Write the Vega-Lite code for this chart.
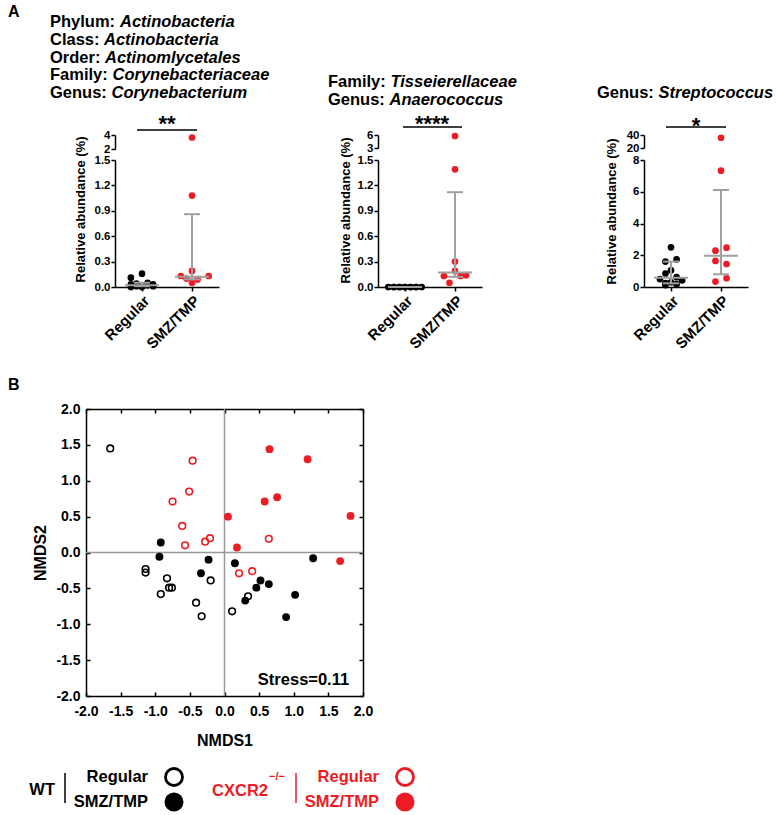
{
"$schema": "https://vega.github.io/schema/vega-lite/v6.json",
"padding": {"left": 8, "top": 0, "right": 0, "bottom": 0},
"columns": 4,
"bounds": "flush",
"align": "none",
"spacing": {"row": 70, "column": 0},
"config": {
  "view": {"stroke": null},
  "font": "Liberation Sans",
  "locale": {"number": {"decimal": ".", "thousands": ",", "grouping": [3], "currency": ["$", ""], "minus": "-"}}
},
"datasets": {
  "p1": [
    {"group": "Regular", "value": 0.157, "slot": 0},
    {"group": "Regular", "value": 0.11, "slot": -2},
    {"group": "Regular", "value": 0.05, "slot": 1},
    {"group": "Regular", "value": 0.04, "slot": -1},
    {"group": "Regular", "value": 0.03, "slot": 2},
    {"group": "Regular", "value": 0.03, "slot": -2},
    {"group": "Regular", "value": 0.02, "slot": 0},
    {"group": "Regular", "value": 0.02, "slot": 1},
    {"group": "Regular", "value": 0.01, "slot": -1},
    {"group": "Regular", "value": 0.01, "slot": 2},
    {"group": "Regular", "value": 0.0, "slot": 0},
    {"group": "Regular", "value": 0.0, "slot": -2},
    {"group": "SMZ/TMP", "value": 3.64, "slot": 0},
    {"group": "SMZ/TMP", "value": 1.08, "slot": 0},
    {"group": "SMZ/TMP", "value": 0.19, "slot": 0},
    {"group": "SMZ/TMP", "value": 0.13, "slot": -2},
    {"group": "SMZ/TMP", "value": 0.10, "slot": -1},
    {"group": "SMZ/TMP", "value": 0.09, "slot": 1},
    {"group": "SMZ/TMP", "value": 0.13, "slot": 3},
    {"group": "SMZ/TMP", "value": 0.05, "slot": 0}
  ],
  "p1s": [
    {"group": "Regular", "med": 0.02, "lo": 0.01, "hi": 0.05},
    {"group": "SMZ/TMP", "med": 0.12, "lo": 0.09, "hi": 0.86}
  ],
  "p1t": [
    {"line": 1, "label": "Phylum:", "name": "Actinobacteria"},
    {"line": 2, "label": "Class:", "name": "Actinobacteria"},
    {"line": 3, "label": "Order:", "name": "Actinomlycetales"},
    {"line": 4, "label": "Family:", "name": "Corynebacteriaceae"},
    {"line": 5, "label": "Genus:", "name": "Corynebacterium"}
  ],
  "p2": [
    {"group": "Regular", "value": 0, "slot": -3},
    {"group": "Regular", "value": 0, "slot": -2},
    {"group": "Regular", "value": 0, "slot": -1},
    {"group": "Regular", "value": 0, "slot": 0},
    {"group": "Regular", "value": 0, "slot": 1},
    {"group": "Regular", "value": 0, "slot": 2},
    {"group": "Regular", "value": 0, "slot": 3},
    {"group": "Regular", "value": 0, "slot": -2},
    {"group": "Regular", "value": 0, "slot": -1},
    {"group": "Regular", "value": 0, "slot": 0},
    {"group": "Regular", "value": 0, "slot": 1},
    {"group": "Regular", "value": 0, "slot": 2},
    {"group": "SMZ/TMP", "value": 5.77, "slot": 0},
    {"group": "SMZ/TMP", "value": 1.39, "slot": 0},
    {"group": "SMZ/TMP", "value": 0.30, "slot": 0},
    {"group": "SMZ/TMP", "value": 0.19, "slot": 0},
    {"group": "SMZ/TMP", "value": 0.13, "slot": -2},
    {"group": "SMZ/TMP", "value": 0.13, "slot": 1},
    {"group": "SMZ/TMP", "value": 0.14, "slot": 2},
    {"group": "SMZ/TMP", "value": 0.05, "slot": -1}
  ],
  "p2s": [
    {"group": "Regular", "med": 0, "lo": 0, "hi": 0},
    {"group": "SMZ/TMP", "med": 0.17, "lo": 0.12, "hi": 1.12}
  ],
  "p2t": [
    {"line": 1, "label": "Family:", "name": "Tisseierellaceae"},
    {"line": 2, "label": "Genus:", "name": "Anaerococcus"}
  ],
  "p3": [
    {"group": "Regular", "value": 2.50, "slot": 0},
    {"group": "Regular", "value": 1.74, "slot": 1},
    {"group": "Regular", "value": 1.60, "slot": -1},
    {"group": "Regular", "value": 1.05, "slot": 0},
    {"group": "Regular", "value": 0.85, "slot": -1},
    {"group": "Regular", "value": 0.62, "slot": 1},
    {"group": "Regular", "value": 0.50, "slot": -2},
    {"group": "Regular", "value": 0.42, "slot": 2},
    {"group": "Regular", "value": 0.30, "slot": 0},
    {"group": "Regular", "value": 0.25, "slot": -1},
    {"group": "Regular", "value": 0.18, "slot": 1},
    {"group": "Regular", "value": 0.12, "slot": -1},
    {"group": "SMZ/TMP", "value": 35.8, "slot": 0},
    {"group": "SMZ/TMP", "value": 7.33, "slot": 0},
    {"group": "SMZ/TMP", "value": 2.48, "slot": 1},
    {"group": "SMZ/TMP", "value": 2.29, "slot": -1},
    {"group": "SMZ/TMP", "value": 1.64, "slot": -1},
    {"group": "SMZ/TMP", "value": 1.45, "slot": 1},
    {"group": "SMZ/TMP", "value": 0.55, "slot": 1},
    {"group": "SMZ/TMP", "value": 0.34, "slot": -1}
  ],
  "p3s": [
    {"group": "Regular", "med": 0.59, "lo": 0.23, "hi": 1.60},
    {"group": "SMZ/TMP", "med": 1.97, "lo": 0.80, "hi": 6.11}
  ],
  "p3t": [
    {"line": 1, "label": "Genus:", "name": "Streptococcus"}
  ],
  "nmds": [
    {"geno": "WT", "diet": "Regular", "nmds1": -1.65, "nmds2": 1.45},
    {"geno": "WT", "diet": "Regular", "nmds1": -1.14, "nmds2": -0.23},
    {"geno": "WT", "diet": "Regular", "nmds1": -1.14, "nmds2": -0.28},
    {"geno": "WT", "diet": "Regular", "nmds1": -0.83, "nmds2": -0.36},
    {"geno": "WT", "diet": "Regular", "nmds1": -0.80, "nmds2": -0.49},
    {"geno": "WT", "diet": "Regular", "nmds1": -0.76, "nmds2": -0.49},
    {"geno": "WT", "diet": "Regular", "nmds1": -0.92, "nmds2": -0.58},
    {"geno": "WT", "diet": "Regular", "nmds1": -0.20, "nmds2": -0.39},
    {"geno": "WT", "diet": "Regular", "nmds1": -0.41, "nmds2": -0.70},
    {"geno": "WT", "diet": "Regular", "nmds1": -0.33, "nmds2": -0.89},
    {"geno": "WT", "diet": "Regular", "nmds1": 0.11, "nmds2": -0.82},
    {"geno": "WT", "diet": "Regular", "nmds1": 0.34, "nmds2": -0.61},
    {"geno": "WT", "diet": "SMZ/TMP", "nmds1": -0.92, "nmds2": 0.14},
    {"geno": "WT", "diet": "SMZ/TMP", "nmds1": -0.94, "nmds2": -0.06},
    {"geno": "WT", "diet": "SMZ/TMP", "nmds1": -0.23, "nmds2": -0.10},
    {"geno": "WT", "diet": "SMZ/TMP", "nmds1": -0.34, "nmds2": -0.29},
    {"geno": "WT", "diet": "SMZ/TMP", "nmds1": 0.15, "nmds2": -0.15},
    {"geno": "WT", "diet": "SMZ/TMP", "nmds1": 0.30, "nmds2": -0.67},
    {"geno": "WT", "diet": "SMZ/TMP", "nmds1": 0.46, "nmds2": -0.49},
    {"geno": "WT", "diet": "SMZ/TMP", "nmds1": 0.52, "nmds2": -0.39},
    {"geno": "WT", "diet": "SMZ/TMP", "nmds1": 0.64, "nmds2": -0.44},
    {"geno": "WT", "diet": "SMZ/TMP", "nmds1": 1.02, "nmds2": -0.59},
    {"geno": "WT", "diet": "SMZ/TMP", "nmds1": 0.89, "nmds2": -0.90},
    {"geno": "WT", "diet": "SMZ/TMP", "nmds1": 1.28, "nmds2": -0.08},
    {"geno": "CXCR2", "diet": "Regular", "nmds1": -0.46, "nmds2": 1.28},
    {"geno": "CXCR2", "diet": "Regular", "nmds1": -0.51, "nmds2": 0.85},
    {"geno": "CXCR2", "diet": "Regular", "nmds1": -0.75, "nmds2": 0.71},
    {"geno": "CXCR2", "diet": "Regular", "nmds1": -0.61, "nmds2": 0.37},
    {"geno": "CXCR2", "diet": "Regular", "nmds1": -0.57, "nmds2": 0.10},
    {"geno": "CXCR2", "diet": "Regular", "nmds1": -0.28, "nmds2": 0.15},
    {"geno": "CXCR2", "diet": "Regular", "nmds1": -0.21, "nmds2": 0.20},
    {"geno": "CXCR2", "diet": "Regular", "nmds1": 0.64, "nmds2": 0.19},
    {"geno": "CXCR2", "diet": "Regular", "nmds1": 0.21, "nmds2": -0.29},
    {"geno": "CXCR2", "diet": "Regular", "nmds1": 0.40, "nmds2": -0.26},
    {"geno": "CXCR2", "diet": "SMZ/TMP", "nmds1": 0.65, "nmds2": 1.44},
    {"geno": "CXCR2", "diet": "SMZ/TMP", "nmds1": 1.20, "nmds2": 1.30},
    {"geno": "CXCR2", "diet": "SMZ/TMP", "nmds1": 0.58, "nmds2": 0.71},
    {"geno": "CXCR2", "diet": "SMZ/TMP", "nmds1": 0.76, "nmds2": 0.77},
    {"geno": "CXCR2", "diet": "SMZ/TMP", "nmds1": 0.05, "nmds2": 0.50},
    {"geno": "CXCR2", "diet": "SMZ/TMP", "nmds1": 1.82, "nmds2": 0.51},
    {"geno": "CXCR2", "diet": "SMZ/TMP", "nmds1": 0.18, "nmds2": 0.07},
    {"geno": "CXCR2", "diet": "SMZ/TMP", "nmds1": 1.67, "nmds2": -0.12}
  ],
  "leg": [
    {"geno": "WT", "diet": "Regular"},
    {"geno": "WT", "diet": "SMZ/TMP"},
    {"geno": "CXCR2", "diet": "Regular"},
    {"geno": "CXCR2", "diet": "SMZ/TMP"}
  ]
},
"concat": [
  {
    "width": 292, "height": 287,
    "resolve": {"scale": {"y": "independent"}, "axis": {"y": "independent"}},
    "layer": [
      {"data": {"name": "p1"}, "transform": [{"filter": "datum.value <= 1.5"}],
       "mark": {"type": "circle", "size": 45, "opacity": 1},
       "encoding": {
         "x": {"field": "group", "type": "nominal", "scale": {"type": "band", "domain": ["Regular", "SMZ/TMP"], "range": [29, 133], "paddingInner": 0, "paddingOuter": 0.04}, "axis": {"title": null, "labelAngle": -45, "labelFontSize": 15, "labelFontWeight": "bold", "labelColor": "#000000", "labelPadding": 2, "tickSize": 4, "tickColor": "#000000", "tickWidth": 1.5, "domainColor": "#000000", "domainWidth": 1.5}},
         "xOffset": {"field": "slot", "type": "ordinal", "scale": {"type": "band", "domain": [-4, -3, -2, -1, 0, 1, 2, 3, 4], "paddingInner": 0, "paddingOuter": 0}},
         "y": {"field": "value", "type": "quantitative", "scale": {"domain": [0, 1.5], "range": [287, 160], "nice": false, "zero": false}, "axis": {"orient": "left", "offset": -29, "values": [0, 0.3, 0.6, 0.9, 1.2, 1.5], "format": ".1f", "title": "Relative abundance (%)", "titleFontSize": 13, "titleFontWeight": "bold", "titleColor": "#000000", "titleBaseline": "middle", "titleX": -35, "titleY": 209, "labelFontSize": 11.5, "labelFontWeight": "bold", "labelColor": "#000000", "labelPadding": 1, "tickSize": 4, "tickColor": "#000000", "tickWidth": 1.5, "domainColor": "#000000", "domainWidth": 1.5, "grid": false, "labelFlush": false, "labelOverlap": false}},
         "color": {"field": "group", "type": "nominal", "scale": {"domain": ["Regular", "SMZ/TMP"], "range": ["#000000", "#ed1c24"]}, "legend": null}
       }},
      {"data": {"name": "p1"}, "transform": [{"filter": "datum.value > 1.5"}],
       "mark": {"type": "circle", "size": 45, "opacity": 1},
       "encoding": {
         "x": {"field": "group", "type": "nominal", "scale": {"type": "band", "domain": ["Regular", "SMZ/TMP"], "range": [29, 133], "paddingInner": 0, "paddingOuter": 0.04}, "axis": {"title": null, "labelAngle": -45, "labelFontSize": 15, "labelFontWeight": "bold", "labelColor": "#000000", "labelPadding": 2, "tickSize": 4, "tickColor": "#000000", "tickWidth": 1.5, "domainColor": "#000000", "domainWidth": 1.5}},
         "xOffset": {"field": "slot", "type": "ordinal", "scale": {"type": "band", "domain": [-4, -3, -2, -1, 0, 1, 2, 3, 4], "paddingInner": 0, "paddingOuter": 0}},
         "y": {"field": "value", "type": "quantitative", "scale": {"domain": [2, 4], "range": [149, 135], "nice": false, "zero": false}, "axis": {"orient": "left", "offset": -29, "values": [2, 4], "format": "d", "title": null, "labelFontSize": 11.5, "labelFontWeight": "bold", "labelColor": "#000000", "labelPadding": 1, "tickSize": 4, "tickColor": "#000000", "tickWidth": 1.5, "domainColor": "#000000", "domainWidth": 1.5, "grid": false, "labelFlush": false, "labelOverlap": false}},
         "color": {"field": "group", "type": "nominal", "scale": {"domain": ["Regular", "SMZ/TMP"], "range": ["#000000", "#ed1c24"]}, "legend": null}
       }},
      {"data": {"name": "p1s"},
       "mark": {"type": "rule", "color": "#a0a0a0", "strokeWidth": 2},
       "encoding": {
         "x": {"field": "group", "type": "nominal", "scale": {"type": "band", "domain": ["Regular", "SMZ/TMP"], "range": [29, 133], "paddingInner": 0, "paddingOuter": 0.04}, "axis": {"title": null, "labelAngle": -45, "labelFontSize": 15, "labelFontWeight": "bold", "labelColor": "#000000", "labelPadding": 2, "tickSize": 4, "tickColor": "#000000", "tickWidth": 1.5, "domainColor": "#000000", "domainWidth": 1.5}},
         "y": {"field": "lo", "type": "quantitative", "scale": {"domain": [0, 1.5], "range": [287, 160], "nice": false, "zero": false}, "axis": null},
         "y2": {"field": "hi"}
       }},
      {"data": {"name": "p1s"}, "transform": [{"fold": ["lo", "hi"], "as": ["k", "v"]}],
       "mark": {"type": "tick", "color": "#a0a0a0", "size": 16, "thickness": 2, "opacity": 1},
       "encoding": {
         "x": {"field": "group", "type": "nominal", "scale": {"type": "band", "domain": ["Regular", "SMZ/TMP"], "range": [29, 133], "paddingInner": 0, "paddingOuter": 0.04}, "axis": {"title": null, "labelAngle": -45, "labelFontSize": 15, "labelFontWeight": "bold", "labelColor": "#000000", "labelPadding": 2, "tickSize": 4, "tickColor": "#000000", "tickWidth": 1.5, "domainColor": "#000000", "domainWidth": 1.5}},
         "y": {"field": "v", "type": "quantitative", "scale": {"domain": [0, 1.5], "range": [287, 160], "nice": false, "zero": false}, "axis": null}
       }},
      {"data": {"name": "p1s"},
       "mark": {"type": "tick", "color": "#a0a0a0", "size": 34, "thickness": 2, "opacity": 1},
       "encoding": {
         "x": {"field": "group", "type": "nominal", "scale": {"type": "band", "domain": ["Regular", "SMZ/TMP"], "range": [29, 133], "paddingInner": 0, "paddingOuter": 0.04}, "axis": {"title": null, "labelAngle": -45, "labelFontSize": 15, "labelFontWeight": "bold", "labelColor": "#000000", "labelPadding": 2, "tickSize": 4, "tickColor": "#000000", "tickWidth": 1.5, "domainColor": "#000000", "domainWidth": 1.5}},
         "y": {"field": "med", "type": "quantitative", "scale": {"domain": [0, 1.5], "range": [287, 160], "nice": false, "zero": false}, "axis": null}
       }},
      {"data": {"values": [{"s": "**"}]},
       "mark": {"type": "rule", "color": "#000000", "strokeWidth": 1.5, "xOffset": -5, "x2Offset": 5},
       "encoding": {
         "x": {"datum": "Regular", "type": "nominal"},
         "x2": {"datum": "SMZ/TMP"},
         "y": {"datum": 4.714, "type": "quantitative", "scale": {"domain": [2, 4], "range": [149, 135], "nice": false, "zero": false}, "axis": null}
       }},
      {"data": {"values": [{"s": "**"}]},
       "mark": {"type": "text", "fontSize": 22, "fontWeight": "bold", "align": "center", "baseline": "alphabetic", "dx": 25, "dy": 1, "color": "#000000"},
       "encoding": {
         "x": {"datum": "Regular", "type": "nominal"},
         "y": {"datum": 4.714, "type": "quantitative", "scale": {"domain": [2, 4], "range": [149, 135], "nice": false, "zero": false}, "axis": null},
         "text": {"field": "s"}
       }},
      {"data": {"values": [{"t": "A"}]},
       "mark": {"type": "text", "align": "left", "baseline": "middle", "fontSize": 16, "fontWeight": "bold", "dx": -134, "dy": -10, "color": "#000000"},
       "encoding": {
         "x": {"datum": "Regular", "type": "nominal"},
         "y": {"datum": 1, "type": "quantitative", "scale": {"domain": [1, 5], "range": [22, 93], "nice": false, "zero": false}, "axis": null},
         "text": {"field": "t"}
       }},
      {"data": {"name": "p1t"},
       "mark": {"type": "text", "align": "left", "baseline": "middle", "fontSize": 16.5, "fontWeight": "bold", "dx": -92, "color": "#000000"},
       "encoding": {
         "x": {"datum": "Regular", "type": "nominal"},
         "y": {"field": "line", "type": "quantitative", "scale": {"domain": [1, 5], "range": [22, 93], "nice": false, "zero": false}, "axis": null},
         "text": {"field": "label"}
       }},
      {"data": {"name": "p1t"}, "transform": [{"filter": "datum.line == 1"}],
       "mark": {"type": "text", "align": "left", "baseline": "middle", "fontSize": 16.5, "fontWeight": "bold", "fontStyle": "italic", "dx": -22, "color": "#000000"},
       "encoding": {
         "x": {"datum": "Regular", "type": "nominal"},
         "y": {"field": "line", "type": "quantitative", "scale": {"domain": [1, 5], "range": [22, 93], "nice": false, "zero": false}, "axis": null},
         "text": {"field": "name"}
       }},
      {"data": {"name": "p1t"}, "transform": [{"filter": "datum.line == 2"}],
       "mark": {"type": "text", "align": "left", "baseline": "middle", "fontSize": 16.5, "fontWeight": "bold", "fontStyle": "italic", "dx": -38, "color": "#000000"},
       "encoding": {
         "x": {"datum": "Regular", "type": "nominal"},
         "y": {"field": "line", "type": "quantitative", "scale": {"domain": [1, 5], "range": [22, 93], "nice": false, "zero": false}, "axis": null},
         "text": {"field": "name"}
       }},
      {"data": {"name": "p1t"}, "transform": [{"filter": "datum.line == 3"}],
       "mark": {"type": "text", "align": "left", "baseline": "middle", "fontSize": 16.5, "fontWeight": "bold", "fontStyle": "italic", "dx": -37, "color": "#000000"},
       "encoding": {
         "x": {"datum": "Regular", "type": "nominal"},
         "y": {"field": "line", "type": "quantitative", "scale": {"domain": [1, 5], "range": [22, 93], "nice": false, "zero": false}, "axis": null},
         "text": {"field": "name"}
       }},
      {"data": {"name": "p1t"}, "transform": [{"filter": "datum.line == 4"}],
       "mark": {"type": "text", "align": "left", "baseline": "middle", "fontSize": 16.5, "fontWeight": "bold", "fontStyle": "italic", "dx": -29.5, "color": "#000000"},
       "encoding": {
         "x": {"datum": "Regular", "type": "nominal"},
         "y": {"field": "line", "type": "quantitative", "scale": {"domain": [1, 5], "range": [22, 93], "nice": false, "zero": false}, "axis": null},
         "text": {"field": "name"}
       }},
      {"data": {"name": "p1t"}, "transform": [{"filter": "datum.line == 5"}],
       "mark": {"type": "text", "align": "left", "baseline": "middle", "fontSize": 16.5, "fontWeight": "bold", "fontStyle": "italic", "dx": -30.5, "color": "#000000"},
       "encoding": {
         "x": {"datum": "Regular", "type": "nominal"},
         "y": {"field": "line", "type": "quantitative", "scale": {"domain": [1, 5], "range": [22, 93], "nice": false, "zero": false}, "axis": null},
         "text": {"field": "name"}
       }}
    ]
  },
  {
    "width": 266, "height": 287,
    "resolve": {"scale": {"y": "independent"}, "axis": {"y": "independent"}},
    "layer": [
      {"data": {"name": "p2"}, "transform": [{"filter": "datum.value <= 1.5"}],
       "mark": {"type": "circle", "size": 45, "opacity": 1},
       "encoding": {
         "x": {"field": "group", "type": "nominal", "scale": {"type": "band", "domain": ["Regular", "SMZ/TMP"], "range": [0, 104], "paddingInner": 0, "paddingOuter": 0.04}, "axis": {"title": null, "labelAngle": -45, "labelFontSize": 15, "labelFontWeight": "bold", "labelColor": "#000000", "labelPadding": 2, "tickSize": 4, "tickColor": "#000000", "tickWidth": 1.5, "domainColor": "#000000", "domainWidth": 1.5}},
         "xOffset": {"field": "slot", "type": "ordinal", "scale": {"type": "band", "domain": [-4, -3, -2, -1, 0, 1, 2, 3, 4], "paddingInner": 0, "paddingOuter": 0}},
         "y": {"field": "value", "type": "quantitative", "scale": {"domain": [0, 1.5], "range": [287, 160], "nice": false, "zero": false}, "axis": {"orient": "left", "values": [0, 0.3, 0.6, 0.9, 1.2, 1.5], "format": ".1f", "title": "Relative abundance (%)", "titleFontSize": 13, "titleFontWeight": "bold", "titleColor": "#000000", "titleBaseline": "middle", "titleX": -33, "titleY": 210, "labelFontSize": 11.5, "labelFontWeight": "bold", "labelColor": "#000000", "labelPadding": 1, "tickSize": 4, "tickColor": "#000000", "tickWidth": 1.5, "domainColor": "#000000", "domainWidth": 1.5, "grid": false, "labelFlush": false, "labelOverlap": false}},
         "color": {"field": "group", "type": "nominal", "scale": {"domain": ["Regular", "SMZ/TMP"], "range": ["#000000", "#ed1c24"]}, "legend": null}
       }},
      {"data": {"name": "p2"}, "transform": [{"filter": "datum.value > 1.5"}],
       "mark": {"type": "circle", "size": 45, "opacity": 1},
       "encoding": {
         "x": {"field": "group", "type": "nominal", "scale": {"type": "band", "domain": ["Regular", "SMZ/TMP"], "range": [0, 104], "paddingInner": 0, "paddingOuter": 0.04}, "axis": {"title": null, "labelAngle": -45, "labelFontSize": 15, "labelFontWeight": "bold", "labelColor": "#000000", "labelPadding": 2, "tickSize": 4, "tickColor": "#000000", "tickWidth": 1.5, "domainColor": "#000000", "domainWidth": 1.5}},
         "xOffset": {"field": "slot", "type": "ordinal", "scale": {"type": "band", "domain": [-4, -3, -2, -1, 0, 1, 2, 3, 4], "paddingInner": 0, "paddingOuter": 0}},
         "y": {"field": "value", "type": "quantitative", "scale": {"domain": [3, 6], "range": [148, 135], "nice": false, "zero": false}, "axis": {"orient": "left", "values": [3, 6], "format": "d", "title": null, "labelFontSize": 11.5, "labelFontWeight": "bold", "labelColor": "#000000", "labelPadding": 1, "tickSize": 4, "tickColor": "#000000", "tickWidth": 1.5, "domainColor": "#000000", "domainWidth": 1.5, "grid": false, "labelFlush": false, "labelOverlap": false}},
         "color": {"field": "group", "type": "nominal", "scale": {"domain": ["Regular", "SMZ/TMP"], "range": ["#000000", "#ed1c24"]}, "legend": null}
       }},
      {"data": {"name": "p2s"},
       "mark": {"type": "rule", "color": "#a0a0a0", "strokeWidth": 2},
       "encoding": {
         "x": {"field": "group", "type": "nominal", "scale": {"type": "band", "domain": ["Regular", "SMZ/TMP"], "range": [0, 104], "paddingInner": 0, "paddingOuter": 0.04}, "axis": {"title": null, "labelAngle": -45, "labelFontSize": 15, "labelFontWeight": "bold", "labelColor": "#000000", "labelPadding": 2, "tickSize": 4, "tickColor": "#000000", "tickWidth": 1.5, "domainColor": "#000000", "domainWidth": 1.5}},
         "y": {"field": "lo", "type": "quantitative", "scale": {"domain": [0, 1.5], "range": [287, 160], "nice": false, "zero": false}, "axis": null},
         "y2": {"field": "hi"}
       }},
      {"data": {"name": "p2s"}, "transform": [{"fold": ["lo", "hi"], "as": ["k", "v"]}],
       "mark": {"type": "tick", "color": "#a0a0a0", "size": 16, "thickness": 2, "opacity": 1},
       "encoding": {
         "x": {"field": "group", "type": "nominal", "scale": {"type": "band", "domain": ["Regular", "SMZ/TMP"], "range": [0, 104], "paddingInner": 0, "paddingOuter": 0.04}, "axis": {"title": null, "labelAngle": -45, "labelFontSize": 15, "labelFontWeight": "bold", "labelColor": "#000000", "labelPadding": 2, "tickSize": 4, "tickColor": "#000000", "tickWidth": 1.5, "domainColor": "#000000", "domainWidth": 1.5}},
         "y": {"field": "v", "type": "quantitative", "scale": {"domain": [0, 1.5], "range": [287, 160], "nice": false, "zero": false}, "axis": null}
       }},
      {"data": {"name": "p2s"},
       "mark": {"type": "tick", "color": "#a0a0a0", "size": 34, "thickness": 2, "opacity": 1},
       "encoding": {
         "x": {"field": "group", "type": "nominal", "scale": {"type": "band", "domain": ["Regular", "SMZ/TMP"], "range": [0, 104], "paddingInner": 0, "paddingOuter": 0.04}, "axis": {"title": null, "labelAngle": -45, "labelFontSize": 15, "labelFontWeight": "bold", "labelColor": "#000000", "labelPadding": 2, "tickSize": 4, "tickColor": "#000000", "tickWidth": 1.5, "domainColor": "#000000", "domainWidth": 1.5}},
         "y": {"field": "med", "type": "quantitative", "scale": {"domain": [0, 1.5], "range": [287, 160], "nice": false, "zero": false}, "axis": null}
       }},
      {"data": {"values": [{"s": "****"}]},
       "mark": {"type": "rule", "color": "#000000", "strokeWidth": 1.5, "xOffset": -2, "x2Offset": 7},
       "encoding": {
         "x": {"datum": "Regular", "type": "nominal"},
         "x2": {"datum": "SMZ/TMP"},
         "y": {"datum": 7.846, "type": "quantitative", "scale": {"domain": [3, 6], "range": [148, 135], "nice": false, "zero": false}, "axis": null}
       }},
      {"data": {"values": [{"s": "****"}]},
       "mark": {"type": "text", "fontSize": 22, "fontWeight": "bold", "align": "center", "baseline": "alphabetic", "dx": 27, "dy": 4, "color": "#000000"},
       "encoding": {
         "x": {"datum": "Regular", "type": "nominal"},
         "y": {"datum": 7.846, "type": "quantitative", "scale": {"domain": [3, 6], "range": [148, 135], "nice": false, "zero": false}, "axis": null},
         "text": {"field": "s"}
       }},
      {"data": {"name": "p2t"},
       "mark": {"type": "text", "align": "left", "baseline": "middle", "fontSize": 16.5, "fontWeight": "bold", "dx": -77, "color": "#000000"},
       "encoding": {
         "x": {"datum": "Regular", "type": "nominal"},
         "y": {"field": "line", "type": "quantitative", "scale": {"domain": [1, 2], "range": [82, 100], "nice": false, "zero": false}, "axis": null},
         "text": {"field": "label"}
       }},
      {"data": {"name": "p2t"}, "transform": [{"filter": "datum.line == 1"}],
       "mark": {"type": "text", "align": "left", "baseline": "middle", "fontSize": 16.5, "fontWeight": "bold", "fontStyle": "italic", "dx": -14.5, "color": "#000000"},
       "encoding": {
         "x": {"datum": "Regular", "type": "nominal"},
         "y": {"field": "line", "type": "quantitative", "scale": {"domain": [1, 2], "range": [82, 100], "nice": false, "zero": false}, "axis": null},
         "text": {"field": "name"}
       }},
      {"data": {"name": "p2t"}, "transform": [{"filter": "datum.line == 2"}],
       "mark": {"type": "text", "align": "left", "baseline": "middle", "fontSize": 16.5, "fontWeight": "bold", "fontStyle": "italic", "dx": -15.5, "color": "#000000"},
       "encoding": {
         "x": {"datum": "Regular", "type": "nominal"},
         "y": {"field": "line", "type": "quantitative", "scale": {"domain": [1, 2], "range": [82, 100], "nice": false, "zero": false}, "axis": null},
         "text": {"field": "name"}
       }}
    ]
  },
  {
    "width": 104, "height": 287,
    "resolve": {"scale": {"y": "independent"}, "axis": {"y": "independent"}},
    "layer": [
      {"data": {"name": "p3"}, "transform": [{"filter": "datum.value <= 8"}],
       "mark": {"type": "circle", "size": 45, "opacity": 1},
       "encoding": {
         "x": {"field": "group", "type": "nominal", "scale": {"type": "band", "domain": ["Regular", "SMZ/TMP"], "range": [0, 104], "paddingInner": 0, "paddingOuter": 0.04}, "axis": {"title": null, "labelAngle": -45, "labelFontSize": 15, "labelFontWeight": "bold", "labelColor": "#000000", "labelPadding": 2, "tickSize": 4, "tickColor": "#000000", "tickWidth": 1.5, "domainColor": "#000000", "domainWidth": 1.5}},
         "xOffset": {"field": "slot", "type": "ordinal", "scale": {"type": "band", "domain": [-4, -3, -2, -1, 0, 1, 2, 3, 4], "paddingInner": 0, "paddingOuter": 0}},
         "y": {"field": "value", "type": "quantitative", "scale": {"domain": [0, 8], "range": [287, 160], "nice": false, "zero": false}, "axis": {"orient": "left", "values": [0, 2, 4, 6, 8], "format": "d", "title": "Relative abundance (%)", "titleFontSize": 13, "titleFontWeight": "bold", "titleColor": "#000000", "titleBaseline": "middle", "titleX": -33, "titleY": 211, "labelFontSize": 11.5, "labelFontWeight": "bold", "labelColor": "#000000", "labelPadding": 1, "tickSize": 4, "tickColor": "#000000", "tickWidth": 1.5, "domainColor": "#000000", "domainWidth": 1.5, "grid": false, "labelFlush": false, "labelOverlap": false}},
         "color": {"field": "group", "type": "nominal", "scale": {"domain": ["Regular", "SMZ/TMP"], "range": ["#000000", "#ed1c24"]}, "legend": null}
       }},
      {"data": {"name": "p3"}, "transform": [{"filter": "datum.value > 8"}],
       "mark": {"type": "circle", "size": 45, "opacity": 1},
       "encoding": {
         "x": {"field": "group", "type": "nominal", "scale": {"type": "band", "domain": ["Regular", "SMZ/TMP"], "range": [0, 104], "paddingInner": 0, "paddingOuter": 0.04}, "axis": {"title": null, "labelAngle": -45, "labelFontSize": 15, "labelFontWeight": "bold", "labelColor": "#000000", "labelPadding": 2, "tickSize": 4, "tickColor": "#000000", "tickWidth": 1.5, "domainColor": "#000000", "domainWidth": 1.5}},
         "xOffset": {"field": "slot", "type": "ordinal", "scale": {"type": "band", "domain": [-4, -3, -2, -1, 0, 1, 2, 3, 4], "paddingInner": 0, "paddingOuter": 0}},
         "y": {"field": "value", "type": "quantitative", "scale": {"domain": [20, 40], "range": [148, 135], "nice": false, "zero": false}, "axis": {"orient": "left", "values": [20, 40], "format": "d", "title": null, "labelFontSize": 11.5, "labelFontWeight": "bold", "labelColor": "#000000", "labelPadding": 1, "tickSize": 4, "tickColor": "#000000", "tickWidth": 1.5, "domainColor": "#000000", "domainWidth": 1.5, "grid": false, "labelFlush": false, "labelOverlap": false}},
         "color": {"field": "group", "type": "nominal", "scale": {"domain": ["Regular", "SMZ/TMP"], "range": ["#000000", "#ed1c24"]}, "legend": null}
       }},
      {"data": {"name": "p3s"},
       "mark": {"type": "rule", "color": "#a0a0a0", "strokeWidth": 2},
       "encoding": {
         "x": {"field": "group", "type": "nominal", "scale": {"type": "band", "domain": ["Regular", "SMZ/TMP"], "range": [0, 104], "paddingInner": 0, "paddingOuter": 0.04}, "axis": {"title": null, "labelAngle": -45, "labelFontSize": 15, "labelFontWeight": "bold", "labelColor": "#000000", "labelPadding": 2, "tickSize": 4, "tickColor": "#000000", "tickWidth": 1.5, "domainColor": "#000000", "domainWidth": 1.5}},
         "y": {"field": "lo", "type": "quantitative", "scale": {"domain": [0, 8], "range": [287, 160], "nice": false, "zero": false}, "axis": null},
         "y2": {"field": "hi"}
       }},
      {"data": {"name": "p3s"}, "transform": [{"fold": ["lo", "hi"], "as": ["k", "v"]}],
       "mark": {"type": "tick", "color": "#a0a0a0", "size": 16, "thickness": 2, "opacity": 1},
       "encoding": {
         "x": {"field": "group", "type": "nominal", "scale": {"type": "band", "domain": ["Regular", "SMZ/TMP"], "range": [0, 104], "paddingInner": 0, "paddingOuter": 0.04}, "axis": {"title": null, "labelAngle": -45, "labelFontSize": 15, "labelFontWeight": "bold", "labelColor": "#000000", "labelPadding": 2, "tickSize": 4, "tickColor": "#000000", "tickWidth": 1.5, "domainColor": "#000000", "domainWidth": 1.5}},
         "y": {"field": "v", "type": "quantitative", "scale": {"domain": [0, 8], "range": [287, 160], "nice": false, "zero": false}, "axis": null}
       }},
      {"data": {"name": "p3s"},
       "mark": {"type": "tick", "color": "#a0a0a0", "size": 34, "thickness": 2, "opacity": 1},
       "encoding": {
         "x": {"field": "group", "type": "nominal", "scale": {"type": "band", "domain": ["Regular", "SMZ/TMP"], "range": [0, 104], "paddingInner": 0, "paddingOuter": 0.04}, "axis": {"title": null, "labelAngle": -45, "labelFontSize": 15, "labelFontWeight": "bold", "labelColor": "#000000", "labelPadding": 2, "tickSize": 4, "tickColor": "#000000", "tickWidth": 1.5, "domainColor": "#000000", "domainWidth": 1.5}},
         "y": {"field": "med", "type": "quantitative", "scale": {"domain": [0, 8], "range": [287, 160], "nice": false, "zero": false}, "axis": null}
       }},
      {"data": {"values": [{"s": "*"}]},
       "mark": {"type": "rule", "color": "#000000", "strokeWidth": 1.5, "xOffset": -5, "x2Offset": 5},
       "encoding": {
         "x": {"datum": "Regular", "type": "nominal"},
         "x2": {"datum": "SMZ/TMP"},
         "y": {"datum": 52.3, "type": "quantitative", "scale": {"domain": [20, 40], "range": [148, 135], "nice": false, "zero": false}, "axis": null}
       }},
      {"data": {"values": [{"s": "*"}]},
       "mark": {"type": "text", "fontSize": 22, "fontWeight": "bold", "align": "center", "baseline": "alphabetic", "dx": 25, "dy": 6, "color": "#000000"},
       "encoding": {
         "x": {"datum": "Regular", "type": "nominal"},
         "y": {"datum": 52.3, "type": "quantitative", "scale": {"domain": [20, 40], "range": [148, 135], "nice": false, "zero": false}, "axis": null},
         "text": {"field": "s"}
       }},
      {"data": {"name": "p3t"},
       "mark": {"type": "text", "align": "left", "baseline": "middle", "fontSize": 16.5, "fontWeight": "bold", "dx": -74, "color": "#000000"},
       "encoding": {
         "x": {"datum": "Regular", "type": "nominal"},
         "y": {"field": "line", "type": "quantitative", "scale": {"domain": [0, 1], "range": [75, 93], "nice": false, "zero": false}, "axis": null},
         "text": {"field": "label"}
       }},
      {"data": {"name": "p3t"},
       "mark": {"type": "text", "align": "left", "baseline": "middle", "fontSize": 16.5, "fontWeight": "bold", "fontStyle": "italic", "dx": -12.5, "color": "#000000"},
       "encoding": {
         "x": {"datum": "Regular", "type": "nominal"},
         "y": {"field": "line", "type": "quantitative", "scale": {"domain": [0, 1], "range": [75, 93], "nice": false, "zero": false}, "axis": null},
         "text": {"field": "name"}
       }}
    ]
  },
  {"width": 1, "height": 339, "data": {"values": []}, "mark": "point"},
  {
    "width": 277, "height": 287,
    "resolve": {"axis": {"x": "independent", "y": "independent"}},
    "layer": [
      {"data": {"values": [{}]},
       "mark": {"type": "rule", "color": "#999999", "strokeWidth": 1.5},
       "encoding": {"x": {"datum": 0, "type": "quantitative", "scale": {"domain": [-2, 2], "nice": false, "zero": false}, "axis": null}}},
      {"data": {"values": [{}]},
       "mark": {"type": "rule", "color": "#999999", "strokeWidth": 1.5},
       "encoding": {"y": {"datum": 0, "type": "quantitative", "scale": {"domain": [-2, 2], "nice": false, "zero": false}, "axis": null}}},
      {"data": {"name": "nmds"}, "transform": [{"filter": "datum.diet == 'Regular'"}],
       "mark": {"type": "point", "shape": "circle", "filled": false, "size": 44, "strokeWidth": 1.6, "opacity": 1},
       "encoding": {
         "x": {"field": "nmds1", "type": "quantitative", "scale": {"domain": [-2, 2], "nice": false, "zero": false}, "axis": {"orient": "bottom", "values": [-2, -1.5, -1, -0.5, 0, 0.5, 1, 1.5, 2], "format": ".1f", "title": "NMDS1", "titleFontSize": 16, "titleFontWeight": "bold", "titleColor": "#000000", "titleBaseline": "middle", "titleY": 44, "labelFontSize": 14, "labelFontWeight": "bold", "labelColor": "#000000", "labelPadding": 12, "tickSize": -4, "tickColor": "#000000", "tickWidth": 1.5, "domainColor": "#000000", "domainWidth": 1.5, "grid": false, "labelFlush": false, "labelOverlap": false}},
         "y": {"field": "nmds2", "type": "quantitative", "scale": {"domain": [-2, 2], "nice": false, "zero": false}, "axis": {"orient": "left", "values": [-2, -1.5, -1, -0.5, 0, 0.5, 1, 1.5, 2], "format": ".1f", "title": "NMDS2", "titleFontSize": 16, "titleFontWeight": "bold", "titleColor": "#000000", "titleBaseline": "middle", "titleX": -46, "titleY": 143.5, "labelFontSize": 14, "labelFontWeight": "bold", "labelColor": "#000000", "labelPadding": 10, "tickSize": -4, "tickColor": "#000000", "tickWidth": 1.5, "domainColor": "#000000", "domainWidth": 1.5, "grid": false, "labelFlush": false, "labelOverlap": false}},
         "color": {"field": "geno", "type": "nominal", "scale": {"domain": ["WT", "CXCR2"], "range": ["#000000", "#ed1c24"]}, "legend": null}
       }},
      {"data": {"name": "nmds"}, "transform": [{"filter": "datum.diet == 'SMZ/TMP'"}],
       "mark": {"type": "circle", "size": 62, "opacity": 1},
       "encoding": {
         "x": {"field": "nmds1", "type": "quantitative", "scale": {"domain": [-2, 2], "nice": false, "zero": false}, "axis": {"orient": "top", "values": [-2, -1.5, -1, -0.5, 0, 0.5, 1, 1.5, 2], "labels": false, "title": null, "tickSize": -4, "tickColor": "#000000", "tickWidth": 1.5, "domainColor": "#000000", "domainWidth": 1.5, "grid": false}},
         "y": {"field": "nmds2", "type": "quantitative", "scale": {"domain": [-2, 2], "nice": false, "zero": false}, "axis": {"orient": "right", "values": [-2, -1.5, -1, -0.5, 0, 0.5, 1, 1.5, 2], "labels": false, "title": null, "tickSize": -4, "tickColor": "#000000", "tickWidth": 1.5, "domainColor": "#000000", "domainWidth": 1.5, "grid": false}},
         "color": {"field": "geno", "type": "nominal", "scale": {"domain": ["WT", "CXCR2"], "range": ["#000000", "#ed1c24"]}, "legend": null}
       }},
      {"data": {"values": [{"s": "Stress=0.11"}]},
       "mark": {"type": "text", "align": "right", "baseline": "middle", "fontSize": 16.5, "fontWeight": "bold", "color": "#000000"},
       "encoding": {
         "x": {"datum": 1.8, "type": "quantitative", "scale": {"domain": [-2, 2], "nice": false, "zero": false}, "axis": null},
         "y": {"datum": -1.78, "type": "quantitative", "scale": {"domain": [-2, 2], "nice": false, "zero": false}, "axis": null},
         "text": {"field": "s"}
       }},
      {"data": {"values": [{"t": "B"}]},
       "mark": {"type": "text", "align": "left", "baseline": "middle", "fontSize": 16, "fontWeight": "bold", "dx": -78, "dy": -24, "color": "#000000"},
       "encoding": {
         "x": {"datum": -2, "type": "quantitative", "scale": {"domain": [-2, 2], "nice": false, "zero": false}, "axis": null},
         "y": {"datum": 2, "type": "quantitative", "scale": {"domain": [-2, 2], "nice": false, "zero": false}, "axis": null},
         "text": {"field": "t"}
       }}
    ]
  },
  {"width": 1, "height": 1, "data": {"values": []}, "mark": "point"},
  {"width": 1, "height": 1, "data": {"values": []}, "mark": "point"},
  {"width": 1, "height": 1, "data": {"values": []}, "mark": "point"},
  {
    "width": 200, "height": 40,
    "layer": [
      {"data": {"name": "leg"}, "transform": [{"filter": "datum.diet == 'Regular'"}],
       "mark": {"type": "point", "shape": "circle", "filled": false, "size": 290, "strokeWidth": 2.8, "opacity": 1},
       "encoding": {
         "x": {"field": "geno", "type": "nominal", "scale": {"type": "point", "domain": ["WT", "CXCR2"], "range": [88, 319], "padding": 0}, "axis": null},
         "y": {"field": "diet", "type": "nominal", "scale": {"type": "point", "domain": ["Regular", "SMZ/TMP"], "range": [11, 36], "padding": 0}, "axis": null},
         "color": {"field": "geno", "type": "nominal", "scale": {"domain": ["WT", "CXCR2"], "range": ["#000000", "#ed1c24"]}, "legend": null}
       }},
      {"data": {"name": "leg"}, "transform": [{"filter": "datum.diet == 'SMZ/TMP'"}],
       "mark": {"type": "circle", "size": 360, "opacity": 1},
       "encoding": {
         "x": {"field": "geno", "type": "nominal", "scale": {"type": "point", "domain": ["WT", "CXCR2"], "range": [88, 319], "padding": 0}, "axis": null},
         "y": {"field": "diet", "type": "nominal", "scale": {"type": "point", "domain": ["Regular", "SMZ/TMP"], "range": [11, 36], "padding": 0}, "axis": null},
         "color": {"field": "geno", "type": "nominal", "scale": {"domain": ["WT", "CXCR2"], "range": ["#000000", "#ed1c24"]}, "legend": null}
       }},
      {"data": {"name": "leg"},
       "mark": {"type": "text", "align": "right", "baseline": "middle", "fontSize": 16.5, "fontWeight": "bold", "dx": -26},
       "encoding": {
         "x": {"field": "geno", "type": "nominal", "scale": {"type": "point", "domain": ["WT", "CXCR2"], "range": [88, 319], "padding": 0}, "axis": null},
         "y": {"field": "diet", "type": "nominal", "scale": {"type": "point", "domain": ["Regular", "SMZ/TMP"], "range": [11, 36], "padding": 0}, "axis": null},
         "text": {"field": "diet"},
         "color": {"field": "geno", "type": "nominal", "scale": {"domain": ["WT", "CXCR2"], "range": ["#000000", "#ed1c24"]}, "legend": null}
       }},
      {"data": {"name": "leg"}, "transform": [{"filter": "datum.diet == 'Regular' && datum.geno == 'WT'"}],
       "mark": {"type": "text", "align": "right", "baseline": "middle", "fontSize": 16.5, "fontWeight": "bold", "dx": -119, "dy": 12.5},
       "encoding": {
         "x": {"field": "geno", "type": "nominal", "scale": {"type": "point", "domain": ["WT", "CXCR2"], "range": [88, 319], "padding": 0}, "axis": null},
         "y": {"field": "diet", "type": "nominal", "scale": {"type": "point", "domain": ["Regular", "SMZ/TMP"], "range": [11, 36], "padding": 0}, "axis": null},
         "text": {"field": "geno"},
         "color": {"field": "geno", "type": "nominal", "scale": {"domain": ["WT", "CXCR2"], "range": ["#000000", "#ed1c24"]}, "legend": null}
       }},
      {"data": {"name": "leg"}, "transform": [{"filter": "datum.diet == 'Regular' && datum.geno == 'CXCR2'"}],
       "mark": {"type": "text", "align": "right", "baseline": "middle", "fontSize": 16.5, "fontWeight": "bold", "dx": -137, "dy": 14},
       "encoding": {
         "x": {"field": "geno", "type": "nominal", "scale": {"type": "point", "domain": ["WT", "CXCR2"], "range": [88, 319], "padding": 0}, "axis": null},
         "y": {"field": "diet", "type": "nominal", "scale": {"type": "point", "domain": ["Regular", "SMZ/TMP"], "range": [11, 36], "padding": 0}, "axis": null},
         "text": {"field": "geno"},
         "color": {"field": "geno", "type": "nominal", "scale": {"domain": ["WT", "CXCR2"], "range": ["#000000", "#ed1c24"]}, "legend": null}
       }},
      {"data": {"values": [{"geno": "CXCR2", "diet": "Regular", "sup": "−/−"}]},
       "mark": {"type": "text", "align": "left", "baseline": "middle", "fontSize": 11, "fontWeight": "bold", "dx": -136, "dy": 0},
       "encoding": {
         "x": {"field": "geno", "type": "nominal", "scale": {"type": "point", "domain": ["WT", "CXCR2"], "range": [88, 319], "padding": 0}, "axis": null},
         "y": {"field": "diet", "type": "nominal", "scale": {"type": "point", "domain": ["Regular", "SMZ/TMP"], "range": [11, 36], "padding": 0}, "axis": null},
         "text": {"field": "sup"},
         "color": {"field": "geno", "type": "nominal", "scale": {"domain": ["WT", "CXCR2"], "range": ["#000000", "#ed1c24"]}, "legend": null}
       }},
      {"data": {"values": [{"geno": "WT", "top": "Regular", "bot": "SMZ/TMP"}, {"geno": "CXCR2", "top": "Regular", "bot": "SMZ/TMP"}]},
       "mark": {"type": "rule", "strokeWidth": 1.5, "xOffset": -109, "yOffset": -4, "y2Offset": 1},
       "encoding": {
         "x": {"field": "geno", "type": "nominal", "scale": {"type": "point", "domain": ["WT", "CXCR2"], "range": [88, 319], "padding": 0}, "axis": null},
         "y": {"field": "top", "type": "nominal", "scale": {"type": "point", "domain": ["Regular", "SMZ/TMP"], "range": [11, 36], "padding": 0}, "axis": null},
         "y2": {"field": "bot"},
         "color": {"field": "geno", "type": "nominal", "scale": {"domain": ["WT", "CXCR2"], "range": ["#000000", "#ed1c24"]}, "legend": null}
       }}
    ]
  }
]
}
